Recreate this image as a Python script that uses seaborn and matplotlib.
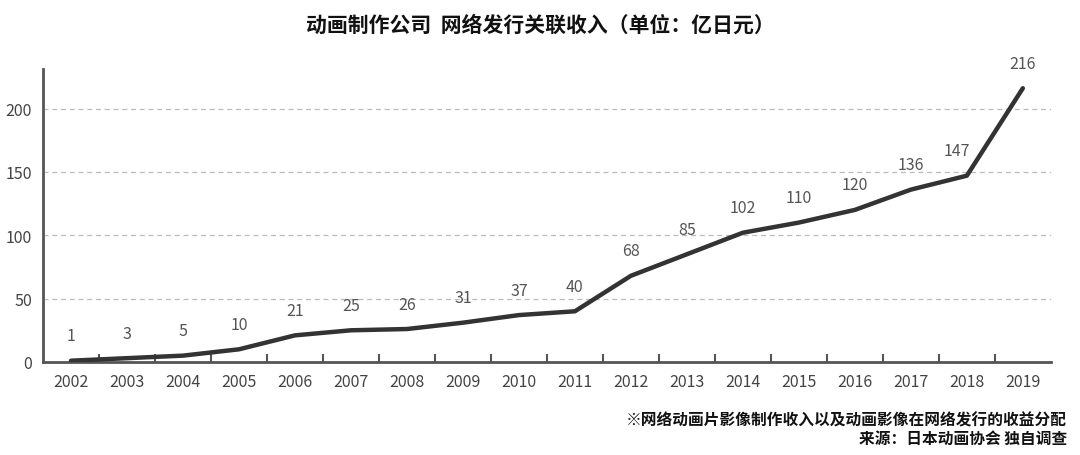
import matplotlib
matplotlib.use("Agg")
import matplotlib.pyplot as plt
import seaborn as sns
import pandas as pd
import numpy as np

years = list(range(2002, 2020))
revenue = [1, 3, 5, 10, 21, 25, 26, 31, 37, 40, 68, 85, 102, 110, 120, 136, 147, 216]
title = "动画制作公司  网络发行关联收入（单位：亿日元）"
note1 = "※网络动画片影像制作收入以及动画影像在网络发行的收益分配"
note2 = "来源：日本动画协会 独自调查"

sns.set_theme(style="white")
plt.rcParams['font.family'] = ['Noto Sans CJK SC', 'DejaVu Sans']

df = pd.DataFrame({"year": years, "revenue": revenue})

fig = plt.figure(figsize=(10.8, 4.56), dpi=100)
ax = fig.add_axes([0.0398, 0.204, 0.9332, 0.642])

sns.lineplot(data=df, x="year", y="revenue", ax=ax, color="#333333", linewidth=3.2,
             solid_capstyle="round", solid_joinstyle="round", zorder=3)

ax.set_xlim(years[0] - 0.5, years[-1] + 0.5)
ax.set_ylim(0, 231)
ax.set_yticks([0, 50, 100, 150, 200])
ax.set_xticks(years)
ax.set_xticklabels([str(y) for y in years])
ax.set_xticks(np.arange(years[0] + 0.5, years[-1], 1.0), minor=True)
ax.tick_params(axis="x", which="minor", direction="in", length=6, width=1.5, color="#555555", bottom=True)
ax.tick_params(axis="both", which="major", length=0, labelsize=11.5, labelcolor="#444444", pad=8)
ax.set_xlabel("")
ax.set_ylabel("")

for yv in [50, 100, 150, 200]:
    ax.axhline(yv, color="#bbbbbb", linestyle=(0, (4, 3)), linewidth=0.9, zorder=1)

for s in ["top", "right"]:
    ax.spines[s].set_visible(False)
for s in ["left", "bottom"]:
    ax.spines[s].set_color("#555555")
    ax.spines[s].set_linewidth(2)

for x, v in zip(years, revenue):
    dx = -7 if x == 2018 else 0
    ax.annotate(str(v), (x, v), xytext=(dx, 18), textcoords="offset points",
                ha="center", va="center", fontsize=11.5, color="#555555")

fig.text(0.5, 0.945, title, ha="center", va="center", fontsize=15, fontweight="bold", color="#111111")
fig.text(0.988, 0.077, note1, ha="right", va="center", fontsize=11.3, fontweight="bold", color="#111111")
fig.text(0.988, 0.037, note2, ha="right", va="center", fontsize=11.3, fontweight="bold", color="#111111")

fig.savefig("out.png", dpi=100)
